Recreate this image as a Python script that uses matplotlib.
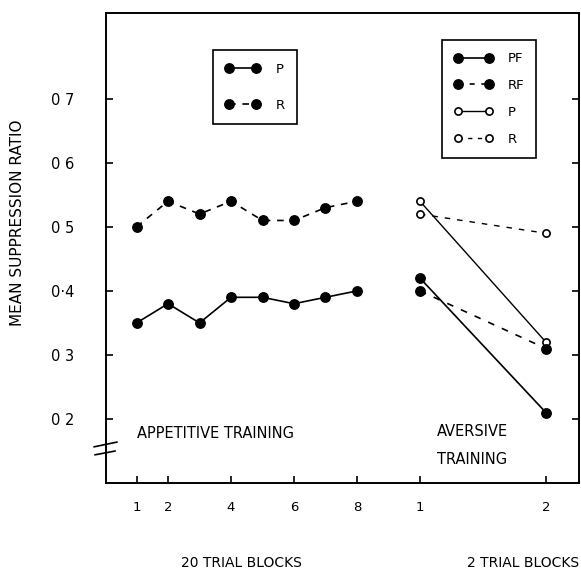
import matplotlib.pyplot as plt
from matplotlib.lines import Line2D

# appetitive training, 20 trial blocks
blocos_apet = [1, 2, 3, 4, 5, 6, 7, 8]
p_apet = [0.35, 0.38, 0.35, 0.39, 0.39, 0.38, 0.39, 0.40]
r_apet = [0.50, 0.54, 0.52, 0.54, 0.51, 0.51, 0.53, 0.54]

# aversive training, 2 trial blocks (drawn at x = 10 and 14)
blocos_avers = [10, 14]
pf_avers = [0.42, 0.21]
rf_avers = [0.40, 0.31]
p_avers = [0.54, 0.32]
r_avers = [0.52, 0.49]

xticks = [1, 2, 4, 6, 8, 10, 14]
xrotulos = ['1', '2', '4', '6', '8', '1', '2']
yticks = [0.2, 0.3, 0.4, 0.5, 0.6, 0.7]
yrotulos = ['0 2', '0 3', '0·4', '0 5', '0 6', '0 7']

plt.rcParams['font.family'] = 'DejaVu Sans'
fig = plt.figure(figsize=(5.81, 5.72), dpi=100)
ax = fig.add_axes([106/581, 89/572, 473/581, 470/572])

cheio = dict(marker='o', color='k', markersize=6.8, linewidth=1.2)
vazio = dict(marker='o', color='k', markersize=5.2, markerfacecolor='white',
             markeredgewidth=1.2, linewidth=1.0)

linha_p, = ax.plot(blocos_apet, p_apet, '-', **cheio)
linha_r, = ax.plot(blocos_apet, r_apet, '--', dashes=(4, 4), **cheio)

ax.plot(blocos_avers, p_avers, '-', **vazio)
ax.plot(blocos_avers, r_avers, '--', dashes=(4, 5), **vazio)
ax.plot(blocos_avers, pf_avers, '-', **cheio)
ax.plot(blocos_avers, rf_avers, '--', dashes=(4, 5), **cheio)

ax.set_xlim(0.03, 15.05)
ax.set_ylim(0.1, 0.834)
ax.set_xticks(xticks)
ax.set_xticklabels(xrotulos, fontsize=9.5)
ax.set_yticks(yticks)
ax.set_yticklabels(yrotulos, fontsize=10.5)
ax.tick_params(axis='y', direction='in', length=5, width=1.2, right=True, pad=23)
ax.tick_params(axis='x', direction='in', length=5, width=1.2, pad=13)
for s in ax.spines.values():
    s.set_linewidth(1.4)

# axis break on the left spine
ax.plot([0, 0], [0.067, 0.079], transform=ax.transAxes, color='white',
        linewidth=3, clip_on=False, solid_capstyle='butt')
ax.plot([-0.025, 0.023], [0.077, 0.087], transform=ax.transAxes,
        color='k', linewidth=1.2, clip_on=False)
ax.plot([-0.023, 0.019], [0.060, 0.068], transform=ax.transAxes,
        color='k', linewidth=1.2, clip_on=False)

ax.text(1.0, 0.178, 'APPETITIVE TRAINING', fontsize=10.5, va='center')
ax.text(10.55, 0.180, 'AVERSIVE', fontsize=10.5, va='center')
ax.text(10.55, 0.136, 'TRAINING', fontsize=10.5, va='center')

fig.text(18/581, 1 - 223/572, 'MEAN SUPPRESSION RATIO', rotation=90,
         fontsize=11, ha='center', va='center')
fig.text(241/581, 1 - 563/572, '20 TRIAL BLOCKS', fontsize=10, ha='center', va='center')
fig.text(579/581, 1 - 563/572, '2 TRIAL BLOCKS', fontsize=10, ha='right', va='center')

# legends
leg1 = ax.legend([linha_p, linha_r], ['P', 'R'], loc='upper left',
                 bbox_to_anchor=(0.226, 0.921), borderaxespad=0, fontsize=9.5,
                 numpoints=2, handlelength=2.6, handletextpad=1.2,
                 labelspacing=1.75, borderpad=0.95, frameon=True, fancybox=False,
                 edgecolor='k', framealpha=1)
leg1.get_frame().set_linewidth(1.2)
ax.add_artist(leg1)

h_pf = Line2D([], [], linestyle='-', **cheio)
h_rf = Line2D([], [], linestyle='--', dashes=(3, 4), **cheio)
h_p = Line2D([], [], linestyle='-', **vazio)
h_r = Line2D([], [], linestyle='--', dashes=(3, 4), **vazio)
leg2 = ax.legend([h_pf, h_rf, h_p, h_r], ['PF', 'RF', 'P', 'R'], loc='upper left',
                 bbox_to_anchor=(0.710, 0.942), borderaxespad=0, fontsize=9.5,
                 numpoints=2, handlelength=3.0, handletextpad=1.1,
                 labelspacing=1.05, borderpad=0.9, frameon=True, fancybox=False,
                 edgecolor='k', framealpha=1)
leg2.get_frame().set_linewidth(1.2)

fig.savefig('out.png', dpi=100)
